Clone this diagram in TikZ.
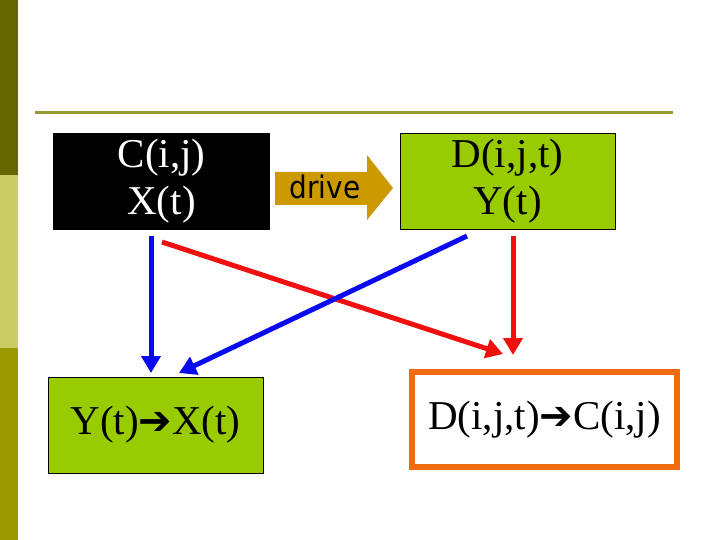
\documentclass[tikz,border=0pt]{standalone}
\usepackage{fontspec}
\setmainfont{Liberation Serif}
\newfontfamily\drivefont{DejaVu Sans Condensed}
\newfontfamily\arrowfont{DejaVu Sans}
\usetikzlibrary{arrows.meta}
\definecolor{stripdark}{HTML}{666600}
\definecolor{striplight}{HTML}{CCCC66}
\definecolor{stripmid}{HTML}{999900}
\definecolor{ruleolive}{HTML}{999933}
\definecolor{boxgreen}{HTML}{99CC00}
\definecolor{drivegold}{HTML}{CC9900}
\definecolor{boxorange}{HTML}{F06C10}
\definecolor{arrblue}{HTML}{0A0AF0}
\definecolor{arrred}{HTML}{F01010}
\newcommand{\ra}{{\arrowfont\fontsize{40}{40}\selectfont ➔}}
\begin{document}
\begin{tikzpicture}[x=1pt, y=-1pt, line join=miter,
    bigtext/.style={font=\fontsize{41}{47}\selectfont, align=center, inner sep=0pt},
    darkbox/.style={bigtext, fill=black, text=white, minimum width=217pt, minimum height=97pt},
    greenbox/.style={bigtext, fill=boxgreen, draw=black, line width=0.8pt, minimum width=215pt, minimum height=96pt},
    orangebox/.style={bigtext, fill=white, draw=boxorange, line width=6pt, minimum width=265pt, minimum height=95pt},
    flow/.style={line width=5pt, -{Triangle[length=17pt, width=19pt]}}]
    % Seitenleiste und Titellinie
    \fill[white] (0,0) rectangle (720,540);
    \useasboundingbox (0,0) rectangle (720,540);
    \fill[stripdark] (0,0) rectangle (18,175);
    \fill[striplight] (0,175) rectangle (18,348);
    \fill[stripmid] (0,348) rectangle (18,540);
    \draw[ruleolive, line width=3pt] (35,113) -- (673,113);

    % Kaesten
    \node[darkbox] (cx) at (161.5,181.5) {C(i,j)\\X(t)};
    \node[greenbox] (dy) at (507.5,181.5) {D(i,j,t)\\Y(t)};
    \node[greenbox] (yx) at (155.5,425) {Y(t)\ra X(t)};
    \node[orangebox] (dc) at (544.5,419.5) {D(i,j,t)\ra C(i,j)};

    % Pfeil "drive"
    \fill[drivegold] (275,172) -- (367,172) -- (367,155) -- (393,188)
        -- (367,220) -- (367,205) -- (275,205) -- cycle;
    \node[font=\drivefont\fontsize{31}{31}\selectfont, inner sep=0pt] (drive) at (325,187) {drive};

    % Pfeilenden
    \coordinate (cxa) at (151,236);
    \coordinate (cxb) at (162,242);
    \coordinate (dya) at (467,236);
    \coordinate (dyb) at (513,236);
    \coordinate (yxa) at (151,373);
    \coordinate (yxb) at (179,373);
    \coordinate (dca) at (503,354);
    \coordinate (dcb) at (513,355);

    % Verbindungen
    \draw[flow, arrblue] (cxa) -- (yxa);
    \draw[flow, arrred] (cxb) -- (dca);
    \draw[flow, arrblue] (dya) -- (yxb);
    \draw[flow, arrred] (dyb) -- (dcb);
\end{tikzpicture}
\end{document}
